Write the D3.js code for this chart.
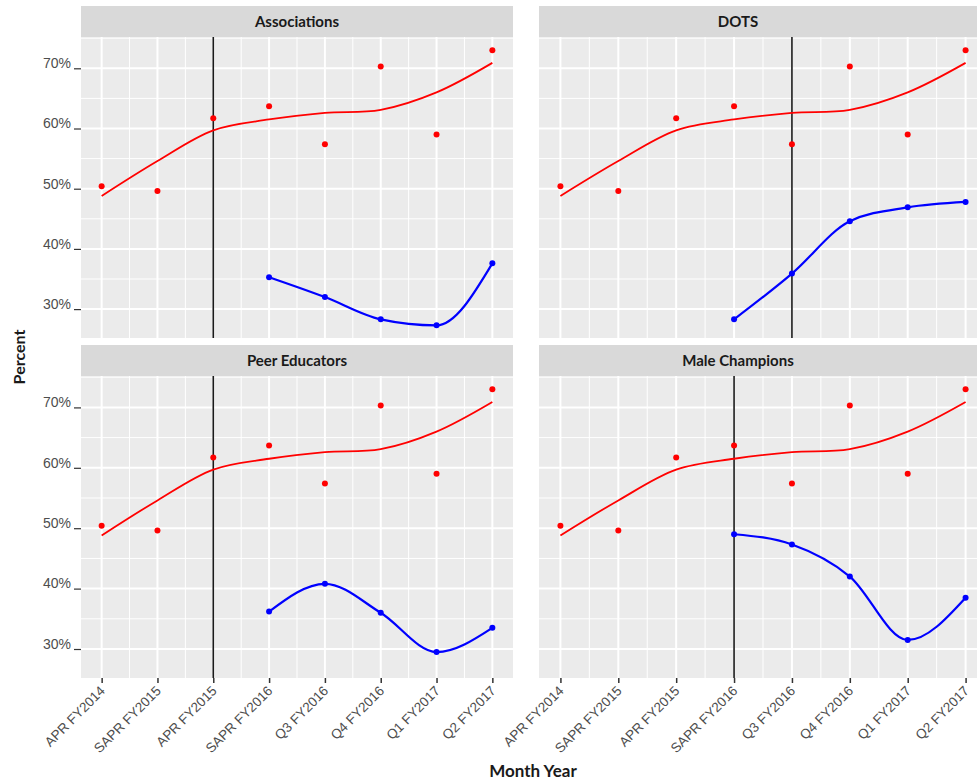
<!DOCTYPE html>
<html>
<head>
<meta charset="utf-8">
<script src="https://cdn.jsdelivr.net/npm/d3@7"></script>
<style>
  body { margin: 0; background: #fff; }
  svg { display: block; }
</style>
</head>
<body>
<div id="main"></div>
<script>
// --- data
const categories = ['APR FY2014', 'SAPR FY2015', 'APR FY2015', 'SAPR FY2016',
  'Q3 FY2016', 'Q4 FY2016', 'Q1 FY2017', 'Q2 FY2017'];
const yTicks = [30, 40, 50, 60, 70];

// overall survey percent (red points) and its smoothed trend (red line)
const overallValues = [50.4, 49.6, 61.7, 63.7, 57.4, 70.3, 59.0, 73.0];
const overallTrend = [48.8, 54.6, 59.7, 61.5, 62.6, 63.1, 66.0, 70.9];

// program series (blue) start at SAPR FY2016
const programCategories = ['SAPR FY2016', 'Q3 FY2016', 'Q4 FY2016', 'Q1 FY2017', 'Q2 FY2017'];
const panelNames = ['Associations', 'DOTS', 'Peer Educators', 'Male Champions'];
const associationsValues = [35.3, 32.0, 28.3, 27.3, 37.6];
const dotsValues = [28.3, 35.9, 44.6, 46.9, 47.8];
const peerValues = [36.2, 40.8, 36.0, 29.5, 33.5];
const maleValues = [49.0, 47.3, 42.0, 31.5, 38.5];
// category at which each program started (vertical line)
const launchCategories = ['APR FY2015', 'Q3 FY2016', 'APR FY2015', 'SAPR FY2016'];

const programValues = [associationsValues, dotsValues, peerValues, maleValues];

// --- layout
const width = 977, height = 782;
const cols = [[81, 513], [539, 987]];
const rows = [{ strip: 6, top: 37, bottom: 338 }, { strip: 345, top: 376, bottom: 678 }];

const svg = d3.select('#main')
  .append('svg')
  .attr('width', width)
  .attr('height', height);

const grey = '#4d4d4d';

panelNames.forEach((name, i) => {
  const col = cols[i % 2];
  const row = rows[Math.floor(i / 2)];

  const xScale = d3.scalePoint()
    .domain(categories)
    .range(col)
    .padding(0.37);
  const yScale = d3.scaleLinear()
    .domain([25.2, 75.2])
    .range([row.bottom, row.top]);

  const g = svg.append('g');

  // strip
  g.append('rect')
    .attr('x', col[0]).attr('y', row.strip)
    .attr('width', col[1] - col[0]).attr('height', row.top - row.strip)
    .attr('fill', '#d9d9d9');
  g.append('text')
    .attr('x', (col[0] + Math.min(col[1], width)) / 2 + (i % 2 ? -20 : 0))
    .attr('y', (row.strip + row.top) / 2)
    .attr('dy', '0.35em')
    .attr('text-anchor', 'middle')
    .attr('font-family', 'Lato, "Open Sans", sans-serif')
    .attr('font-weight', 'bold')
    .attr('font-size', 15)
    .attr('fill', '#1a1a1a')
    .text(name);

  // panel background
  g.append('rect')
    .attr('x', col[0]).attr('y', row.top)
    .attr('width', col[1] - col[0]).attr('height', row.bottom - row.top)
    .attr('fill', '#ebebeb');

  // minor grid
  const step = xScale.step();
  const minorX = categories.slice(1).map(c => xScale(c) - step / 2);
  const minorY = d3.range(25, 76, 10).filter(v => v > 25.2);
  g.selectAll('.minor-x').data(minorX).enter().append('line')
    .attr('x1', d => d).attr('x2', d => d)
    .attr('y1', row.top).attr('y2', row.bottom)
    .attr('stroke', '#fff').attr('stroke-width', 1);
  g.selectAll('.minor-y').data(minorY).enter().append('line')
    .attr('x1', col[0]).attr('x2', col[1])
    .attr('y1', d => yScale(d)).attr('y2', d => yScale(d))
    .attr('stroke', '#fff').attr('stroke-width', 1);

  // major grid
  g.selectAll('.major-x').data(categories).enter().append('line')
    .attr('x1', d => xScale(d)).attr('x2', d => xScale(d))
    .attr('y1', row.top).attr('y2', row.bottom)
    .attr('stroke', '#fff').attr('stroke-width', 2);
  g.selectAll('.major-y').data(yTicks).enter().append('line')
    .attr('x1', col[0]).attr('x2', col[1])
    .attr('y1', d => yScale(d)).attr('y2', d => yScale(d))
    .attr('stroke', '#fff').attr('stroke-width', 2);

  // launch line
  g.append('line')
    .attr('x1', xScale(launchCategories[i])).attr('x2', xScale(launchCategories[i]))
    .attr('y1', row.top).attr('y2', row.bottom)
    .attr('stroke', '#1a1a1a').attr('stroke-width', 1.6);

  // red trend + points
  const line = d3.line()
    .x((d, j) => xScale(categories[j]))
    .y(d => yScale(d))
    .curve(d3.curveCatmullRom.alpha(0.5));
  g.append('path')
    .datum(overallTrend)
    .attr('d', line)
    .attr('fill', 'none')
    .attr('stroke', '#ff0000')
    .attr('stroke-width', 1.8);
  g.selectAll('.red-dot').data(overallValues).enter().append('circle')
    .attr('cx', (d, j) => xScale(categories[j]))
    .attr('cy', d => yScale(d))
    .attr('r', 3)
    .attr('fill', '#ff0000');

  // blue program line + points
  const blueLine = d3.line()
    .x((d, j) => xScale(programCategories[j]))
    .y(d => yScale(d))
    .curve(d3.curveMonotoneX);
  g.append('path')
    .datum(programValues[i])
    .attr('d', blueLine)
    .attr('fill', 'none')
    .attr('stroke', '#0000ff')
    .attr('stroke-width', 2.2);
  g.selectAll('.blue-dot').data(programValues[i]).enter().append('circle')
    .attr('cx', (d, j) => xScale(programCategories[j]))
    .attr('cy', d => yScale(d))
    .attr('r', 3)
    .attr('fill', '#0000ff');

  // y axis on left column
  if (i % 2 === 0) {
    const yAxis = g.append('g')
      .attr('transform', `translate(${col[0]}, 0)`)
      .call(d3.axisLeft(yScale).tickValues(yTicks).tickSize(7).tickFormat(d => d + '%'));
    yAxis.select('.domain').remove();
    yAxis.selectAll('line').attr('stroke', '#333').attr('stroke-width', 1.2);
    yAxis.selectAll('text')
      .attr('font-family', '"Liberation Sans", Arial, sans-serif')
      .attr('font-size', 14)
      .attr('fill', grey)
      .attr('dy', '-0.05em');
  }

  // x axis on bottom row
  if (row.top > 300) {
    const xAxis = g.append('g')
      .attr('transform', `translate(0, ${row.bottom})`)
      .call(d3.axisBottom(xScale).tickSize(5));
    xAxis.select('.domain').remove();
    xAxis.selectAll('line').attr('stroke', '#333').attr('stroke-width', 1.5);
    xAxis.selectAll('text')
      .attr('font-family', '"Liberation Sans", Arial, sans-serif')
      .attr('font-size', 13.5)
      .attr('fill', grey)
      .attr('text-anchor', 'end')
      .attr('transform', 'translate(-2, 8) rotate(-45)')
      .attr('dy', '0.6em')
      .attr('y', 0);
  }
});

// axis titles
svg.append('text')
  .attr('x', 533).attr('y', 777)
  .attr('text-anchor', 'middle')
  .attr('font-family', 'Lato, "Open Sans", sans-serif')
  .attr('font-weight', 'bold')
  .attr('font-size', 17)
  .attr('fill', '#1a1a1a')
  .text('Month Year');

svg.append('text')
  .attr('transform', 'translate(25, 357) rotate(-90)')
  .attr('text-anchor', 'middle')
  .attr('font-family', 'Lato, "Open Sans", sans-serif')
  .attr('font-weight', 'bold')
  .attr('font-size', 16)
  .attr('fill', '#1a1a1a')
  .text('Percent');
</script>
</body>
</html>
